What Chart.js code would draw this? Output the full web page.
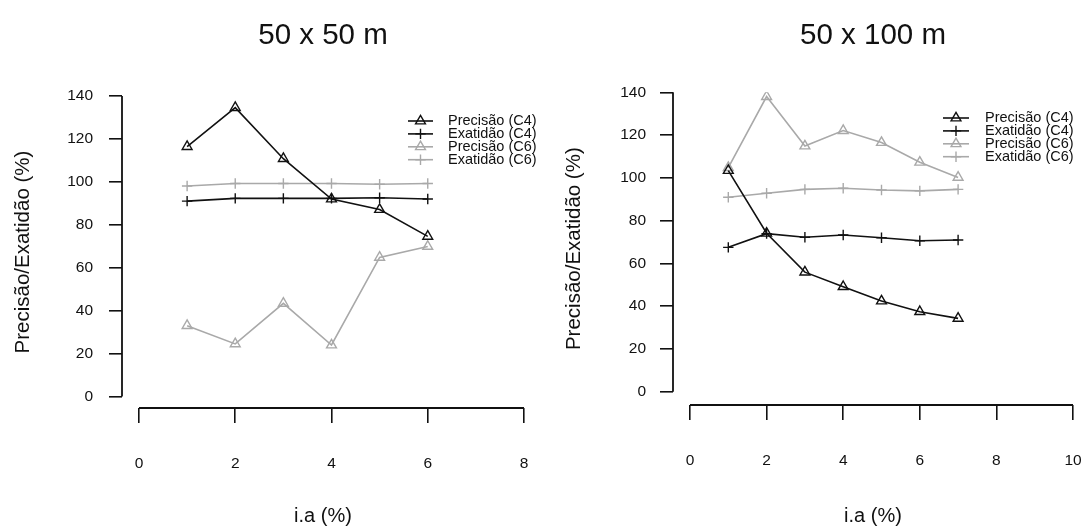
<!DOCTYPE html>
<html>
<head>
<meta charset="utf-8">
<script src="https://cdn.jsdelivr.net/npm/chart.js@4.4.1/dist/chart.umd.min.js"></script>
<style>
  html, body { margin: 0; padding: 0; background: #fff; }
  #wrap { position: relative; width: 1083px; height: 528px; }
  .pane { position: absolute; top: 0; }
  #paneLeft { left: 0; }
  #paneRight { left: 540px; }
</style>
</head>
<body>
<div id="wrap">
  <div class="pane" id="paneLeft"><canvas id="chartLeft" width="540" height="528"></canvas></div>
  <div class="pane" id="paneRight"><canvas id="chartRight" width="543" height="528"></canvas></div>
</div>
<script>
'use strict';

// nomes das séries (ordem da legenda)
const seriesNames = ['Precisão (C4)', 'Exatidão (C4)', 'Precisão (C6)', 'Exatidão (C6)'];

// parcela 50 x 50 m
const iaLeft = [1, 2, 3, 4, 5, 6];
const precC4Left = [116.4, 134.6, 110.8, 92.0, 87.1, 74.6];
const exatC4Left = [91.0, 92.3, 92.3, 92.3, 92.6, 92.0];
const precC6Left = [33.0, 24.5, 43.4, 24.0, 64.8, 69.9];
const exatC6Left = [98.1, 99.2, 99.2, 99.2, 98.9, 99.2];

// parcela 50 x 100 m
const iaRight = [1, 2, 3, 4, 5, 6, 7];
const precC4Right = [103.4, 74.1, 55.9, 49.1, 42.4, 37.4, 34.3];
const exatC4Right = [67.5, 73.9, 72.2, 73.3, 72.0, 70.6, 70.9];
const precC6Right = [104.8, 138.0, 114.9, 122.1, 116.5, 107.3, 100.2];
const exatC6Right = [90.9, 92.8, 94.6, 95.1, 94.3, 93.9, 94.6];

// marcas dos eixos
const xTicksLeft = [0, 2, 4, 6, 8];
const xTicksRight = [0, 2, 4, 6, 8, 10];
const yTicks = [0, 20, 40, 60, 80, 100, 120, 140];

const BLACK = '#111111';
const GRAY = '#a9a9a9';
const FONT = '"Liberation Sans", Arial, Helvetica, sans-serif';

Chart.defaults.font.family = FONT;
Chart.defaults.color = BLACK;

// estilo de cada série: cor e símbolo (triângulo = pch 2, cruz = pch 3)
const seriesStyle = [
  { color: BLACK, symbol: 'triangle' },
  { color: BLACK, symbol: 'cross' },
  { color: GRAY, symbol: 'triangle' },
  { color: GRAY, symbol: 'cross' }
];

function drawSymbol(ctx, symbol, x, y, r) {
  ctx.beginPath();
  if (symbol === 'triangle') {
    let a = 0;
    ctx.moveTo(x + Math.sin(a) * r, y - Math.cos(a) * r);
    a += 2 * Math.PI / 3;
    ctx.lineTo(x + Math.sin(a) * r, y - Math.cos(a) * r);
    a += 2 * Math.PI / 3;
    ctx.lineTo(x + Math.sin(a) * r, y - Math.cos(a) * r);
    ctx.closePath();
  } else {
    ctx.moveTo(x, y - r); ctx.lineTo(x, y + r);
    ctx.moveTo(x - r, y); ctx.lineTo(x + r, y);
  }
  ctx.stroke();
}

// eixos no estilo do R: linhas só entre a primeira e a última marca
const rAxes = {
  id: 'rAxes',
  afterDraw(chart, args, opts) {
    const { ctx, chartArea, scales } = chart;
    const xt = opts.xTicks, yt = opts.yTicks;
    ctx.save();
    ctx.strokeStyle = BLACK;
    ctx.lineWidth = 1.8;
    ctx.beginPath();
    ctx.moveTo(chartArea.left, scales.y.getPixelForValue(yt[0]));
    ctx.lineTo(chartArea.left, scales.y.getPixelForValue(yt[yt.length - 1]));
    ctx.moveTo(scales.x.getPixelForValue(xt[0]), chartArea.bottom);
    ctx.lineTo(scales.x.getPixelForValue(xt[xt.length - 1]), chartArea.bottom);
    ctx.stroke();
    ctx.restore();
  }
};

// legenda sem caixa, dentro da área do gráfico
const rLegend = {
  id: 'rLegend',
  afterDraw(chart, args, o) {
    const ctx = chart.ctx;
    ctx.save();
    ctx.font = o.fontSize + 'px ' + FONT;
    ctx.textBaseline = 'middle';
    ctx.textAlign = 'left';
    chart.data.datasets.forEach((ds, i) => {
      const yy = o.top + i * o.rowHeight;
      ctx.strokeStyle = ds.borderColor;
      ctx.lineWidth = ds.borderWidth;
      ctx.beginPath();
      ctx.moveTo(o.left, yy);
      ctx.lineTo(o.left + o.lineLength, yy);
      ctx.stroke();
      ctx.lineWidth = ds.pointBorderWidth;
      drawSymbol(ctx, ds.pointStyle, o.left + o.lineLength / 2, yy, ds.pointRadius);
      ctx.fillStyle = BLACK;
      ctx.fillText(ds.label, o.textX, yy);
    });
    ctx.restore();
  }
};

function buildChart(canvasId, ia, series, xTicks, title, g) {
  const datasets = series.map((vals, i) => ({
    label: seriesNames[i],
    data: vals.map((v, k) => ({ x: ia[k], y: v })),
    borderColor: seriesStyle[i].color,
    borderWidth: 1.6,
    pointStyle: seriesStyle[i].symbol,
    pointRadius: seriesStyle[i].symbol === 'triangle' ? 5.7 : 5.2,
    pointBorderWidth: 1.4,
    pointBorderColor: seriesStyle[i].color,
    pointBackgroundColor: 'rgba(0,0,0,0)',
    tension: 0,
    fill: false
  }));

  return new Chart(document.getElementById(canvasId), {
    type: 'line',
    data: { datasets: datasets },
    options: {
      responsive: false,
      animation: false,
      events: [],
      layout: { padding: { left: 0, right: g.padRight, top: 0, bottom: 0 } },
      scales: {
        x: {
          type: 'linear',
          min: g.xMin,
          max: xTicks[xTicks.length - 1],
          afterBuildTicks: s => { s.ticks = xTicks.map(v => ({ value: v })); },
          afterFit: s => {
            s.height = g.xAxisHeight;
            // a folga dos rótulos não deve encolher a área do gráfico
            s.paddingLeft = 0;
            s.paddingRight = 0;
          },
          border: { display: false },
          grid: { display: true, drawOnChartArea: false, drawTicks: true, tickLength: 15, color: BLACK, lineWidth: 1.6 },
          ticks: { padding: g.xTickPad, font: { size: 15.5 }, color: BLACK, maxRotation: 0, autoSkip: false },
          title: { display: true, text: 'i.a (%)', font: { size: 20 }, color: BLACK, padding: { top: 0, bottom: g.xTitlePad } }
        },
        y: {
          min: g.yMin,
          max: yTicks[yTicks.length - 1],
          afterBuildTicks: s => { s.ticks = yTicks.map(v => ({ value: v })); },
          afterFit: s => { s.width = g.yAxisWidth; },
          border: { display: false },
          grid: { display: true, drawOnChartArea: false, drawTicks: true, tickLength: 13, color: BLACK, lineWidth: 1.6 },
          ticks: { padding: g.yTickPad, font: { size: 15.5 }, color: BLACK, autoSkip: false },
          title: { display: true, text: 'Precisão/Exatidão (%)', font: { size: 20.5 }, color: BLACK, padding: { top: g.yTitlePad, bottom: 0 } }
        }
      },
      plugins: {
        legend: { display: false },
        tooltip: { enabled: false },
        title: {
          display: true,
          fullSize: false,
          text: title,
          color: BLACK,
          font: { size: 29.5, weight: 'normal' },
          padding: { top: g.titleTop, bottom: g.titleBottom }
        },
        rAxes: { xTicks: xTicks, yTicks: yTicks },
        rLegend: g.legend
      }
    },
    plugins: [rAxes, rLegend]
  });
}

buildChart('chartLeft', iaLeft,
  [precC4Left, exatC4Left, precC6Left, exatC6Left],
  xTicksLeft, '50 x 50 m',
  {
    padRight: 16, xMin: -0.353, yMin: -5.36, xAxisHeight: 120, yAxisWidth: 122,
    yTickPad: 16, yTitlePad: 11.2, xTickPad: 31, xTitlePad: 0, titleTop: 18.3, titleBottom: 42.3,
    legend: { left: 408, lineLength: 25, textX: 448, top: 121, rowHeight: 12.9, fontSize: 14.5 }
  });

buildChart('chartRight', iaRight,
  [precC4Right, exatC4Right, precC6Right, exatC6Right],
  xTicksRight, '50 x 100 m',
  {
    padRight: 10, xMin: -0.444, yMin: -6.22, xAxisHeight: 123, yAxisWidth: 133,
    yTickPad: 14, yTitlePad: 21.7, xTickPad: 31, xTitlePad: 0, titleTop: 18.3, titleBottom: 38.6,
    legend: { left: 403, lineLength: 26, textX: 445, top: 118, rowHeight: 12.9, fontSize: 14.5 }
  });
</script>
</body>
</html>
